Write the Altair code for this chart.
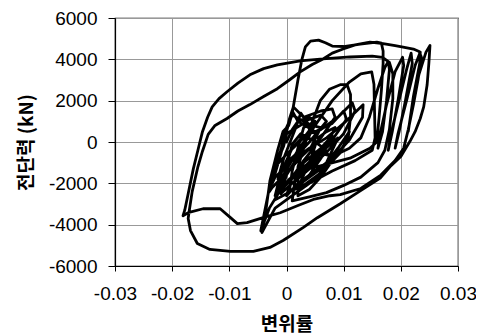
import altair as alt
import pandas as pd

# Drift ratio (x) and shear force in kN (y), in loading order
blob = [(0.000, 0), (0.001, 600), (0.002, 1000), (0.004, 1200), (0.005, 900), (0.003, 200), (0.000, -600), (-0.002, -1200),
        (-0.001, -400), (0.000, 700), (0.001, 1300), (0.003, 1000), (0.006, 1300), (0.007, 1000), (0.004, 0), (0.001, -900),
        (-0.002, -1700), (-0.0025, -2000), (-0.001, -600), (0.0005, 1100), (0.0012, 1700), (0.003, 1200), (0.006, 1500),
        (0.008, 1600), (0.0085, 1200), (0.006, 200), (0.003, -600), (0.000, -1500), (-0.0025, -2200), (-0.003, -2400),
        (-0.0015, -900), (0.000, 500), (0.001, 1500), (0.002, 1000), (0.005, 500), (0.008, 900), (0.010, 1500), (0.0105, 1100),
        (0.008, 100), (0.005, -700), (0.002, -1500), (-0.001, -2300), (-0.002, -2600), (-0.001, -1500), (0.001, -300),
        (0.003, 300), (0.006, 600), (0.009, 1200), (0.0115, 1900), (0.012, 1500), (0.010, 400), (0.007, -500), (0.004, -1300),
        (0.001, -2000), (-0.001, -2500), (0.000, -1600), (0.002, -700), (0.004, -300), (0.007, 200), (0.010, 900),
        (0.0134, 1805), (0.0133, 1200), (0.011, 100), (0.008, -800), (0.005, -1400), (0.002, -2000), (0.000, -2600)]
blob2 = [(0.001, -1700), (0.003, -900), (0.005, -200), (0.004, -1000), (0.002, -1800), (0.003, -1000), (0.006, -300),
         (0.008, 300), (0.006, -800), (0.004, -1600), (0.002, -2200), (0.0035, -1300), (0.006, -500), (0.009, 200),
         (0.007, -1000), (0.005, -1900), (0.0065, -1200), (0.009, -300), (0.011, 500), (0.0095, -500), (0.006, -1500),
         (0.003, -2100), (0.0005, -2400), (0.001, -1400), (0.002, -300), (0.003, 700), (0.005, 1000), (0.004, 300),
         (0.002, -500), (0.000, -1000), (-0.0015, -1800), (-0.0005, -800), (0.0015, 600), (0.0025, 1400), (0.004, 800),
         (0.0055, 200), (0.007, 500), (0.0085, 700), (0.007, -200), (0.005, -900), (0.0025, -1300), (0.0005, -1900),
         (-0.0015, -2500), (0.000, -1200), (0.001, -100), (0.0025, 400), (0.0045, 100), (0.0065, -300), (0.008, -900),
         (0.006, -1700), (0.004, -2300), (0.002, -2600)]
loop_a = [(0.002, -1200), (0.004, 600), (0.0059, 2000), (0.0075, 2550), (0.0095, 2780), (0.0106, 2770), (0.0112, 2300),
          (0.0112, 1200), (0.0108, 200), (0.009, -600), (0.006, -1300), (0.003, -1900), (0.000, -2500), (-0.002, -2800)]
loop_b = [(-0.001, -1800), (0.002, -400), (0.005, 800), (0.008, 2000), (0.011, 2900), (0.013, 3300), (0.0149, 3394),
          (0.0153, 2800), (0.0154, 1500), (0.0155, 200), (0.015, -400), (0.012, -900), (0.008, -1400), (0.004, -2000),
          (0.001, -2600), (-0.002, -3200), (-0.0043, -4378)]
loop_top = [(-0.0036, -3300), (-0.0029, -1882), (-0.0016, -446), (-0.0006, 514), (0.0004, 800), (0.0010, 1400),
            (0.0015, 2200), (0.0020, 3000), (0.0027, 4000), (0.0033, 4600), (0.0042, 4880), (0.0056, 4930), (0.0068, 4800),
            (0.0080, 4640), (0.0100, 4620), (0.0129, 4738), (0.0158, 4834), (0.0166, 4780), (0.0169, 4400), (0.0169, 3800),
            (0.0166, 2500), (0.0162, 1200), (0.0158, 0), (0.0146, -302), (0.0111, -782), (0.0071, -1070), (0.0024, -1403),
            (0.0005, -1800), (-0.001, -2300), (-0.003, -3200), (-0.0045, -4300), (-0.0032, -2500), (-0.002, -1200),
            (-0.0005, -200), (0.000, 400), (0.003, 900), (0.006, 700), (0.004, -400), (0.008, -700)]
spikes = [(0.011, -300), (0.013, 200), (0.0145, 1200), (0.016, 2600), (0.0172, 3600), (0.0178, 3900), (0.0180, 3500),
          (0.0175, 2000), (0.0168, 500), (0.016, -300), (0.0163, 300), (0.0175, 1800), (0.019, 3400), (0.0203, 4100),
          (0.0205, 3700), (0.0195, 2000), (0.0185, 500), (0.0178, -400), (0.0182, 300), (0.0195, 1800), (0.021, 3500),
          (0.0218, 4300), (0.0220, 3800), (0.0208, 2000), (0.0197, 500), (0.019, -300), (0.0195, 400), (0.021, 2000),
          (0.0225, 3700), (0.0234, 4350), (0.0233, 3800), (0.0222, 2200), (0.0213, 514), (0.0220, 1800), (0.0232, 3300),
          (0.0244, 4350), (0.0251, 4670)]
cycle_y = [(0.0249, 3800), (0.0246, 2770), (0.0240, 1700), (0.0234, 1138), (0.0225, 500), (0.0216, 34), (0.0200, -700),
           (0.0181, -1200), (0.0164, -1742), (0.0129, -2366), (0.0094, -2990), (0.0054, -3662), (0.0029, -4142),
           (-0.0006, -4766), (-0.0029, -5102), (-0.0058, -5294), (-0.0098, -5294), (-0.0134, -5198), (-0.0156, -4910),
           (-0.0168, -4286), (-0.0172, -3700), (-0.0170, -3300), (-0.0165, -2400), (-0.0155, -1200), (-0.0147, -446),
           (-0.0137, 370), (-0.0125, 800), (-0.0104, 1138), (-0.0085, 1500), (-0.0064, 1810), (-0.0040, 2200),
           (-0.0016, 2578), (0.0005, 3000), (0.0024, 3394), (0.0045, 3750), (0.0064, 4018), (0.0080, 4300), (0.0099, 4498),
           (0.0120, 4700), (0.0146, 4834), (0.0169, 4760), (0.0190, 4660), (0.0204, 4594), (0.0222, 4498), (0.0232, 4380),
           (0.0236, 4100), (0.0230, 3000), (0.0222, 1800), (0.0213, 600), (0.0205, -300)]
cycle_x = [(0.019, -900), (0.0165, -1600), (0.013, -2250), (0.0094, -2550), (0.0076, -2600), (0.0047, -2780),
           (0.0019, -3086), (-0.0011, -3422), (-0.0041, -3662), (-0.0069, -3902), (-0.0086, -3950), (-0.0098, -3662),
           (-0.0116, -3230), (-0.0146, -3230), (-0.0172, -3422), (-0.0181, -3566), (-0.0178, -3300), (-0.0172, -2500),
           (-0.0163, -1300), (-0.0155, -400), (-0.0147, 500), (-0.0138, 1200), (-0.0130, 1700), (-0.0118, 2100),
           (-0.0104, 2430), (-0.0085, 2850), (-0.0064, 3250), (-0.0040, 3550), (-0.0016, 3730), (0.0024, 3922),
           (0.0064, 4018), (0.0111, 4114), (0.0150, 4160), (0.0168, 4100), (0.0180, 3850), (0.0186, 3300), (0.0186, 2100),
           (0.0180, 600), (0.0172, -400), (0.016, -1000), (0.013, -1700), (0.010, -2100), (0.007, -2450), (0.004, -2650),
           (0.001, -2850), (0.0015, -1800), (0.003, -900)]

segments = [blob, blob2, loop_a, loop_b, loop_top, spikes, cycle_y, cycle_x]
pts = [p for seg in segments for p in seg]
df = pd.DataFrame({"i": range(len(pts)), "x": [p[0] for p in pts], "y": [p[1] for p in pts]})

x_ticks = [-0.03, -0.02, -0.01, 0, 0.01, 0.02, 0.03]
y_ticks = [-6000, -4000, -2000, 0, 2000, 4000, 6000]

font = "Liberation Sans"
kfont = "Noto Sans CJK KR"

chart = alt.Chart(df).mark_line(color="black", strokeWidth=2.8, strokeJoin="round", strokeCap="round").encode(
    x=alt.X("x:Q", scale=alt.Scale(domain=[-0.03, 0.03], nice=False),
            axis=alt.Axis(values=x_ticks, title="변위률", tickSize=5, labelPadding=13,
                          labelOverlap=False, labelFlush=False,
                          labelExpr="abs(datum.value) < 1e-9 ? '0' : (datum.value < 0 ? '-' : '') + format(abs(datum.value), '.2f')",
                          titlePadding=12)),
    y=alt.Y("y:Q", scale=alt.Scale(domain=[-6000, 6000], nice=False),
            axis=alt.Axis(values=y_ticks, title="전단력 (kN)", tickSize=7, labelPadding=11,
                          labelOverlap=False, labelFlush=False,
                          labelExpr="(datum.value < 0 ? '-' : '') + format(abs(datum.value), 'd')",
                          titlePadding=12)),
    order="i:Q",
).properties(
    width=343, height=248,
    autosize=alt.AutoSizeParams(type="none"),
    padding={"left": 107, "top": 10, "right": 18, "bottom": 68},
).configure_axis(
    labelFont=font, labelFontSize=19, labelColor="black",
    titleFont=kfont, titleFontSize=19, titleFontWeight="bold", titleColor="black",
    domainColor="black", domainWidth=1.2, tickColor="black",
    gridColor="#999999", gridWidth=1,
).configure_view(stroke="black", strokeWidth=1.2)

chart.save("out.html", embed_options={"renderer": "svg", "actions": False})
